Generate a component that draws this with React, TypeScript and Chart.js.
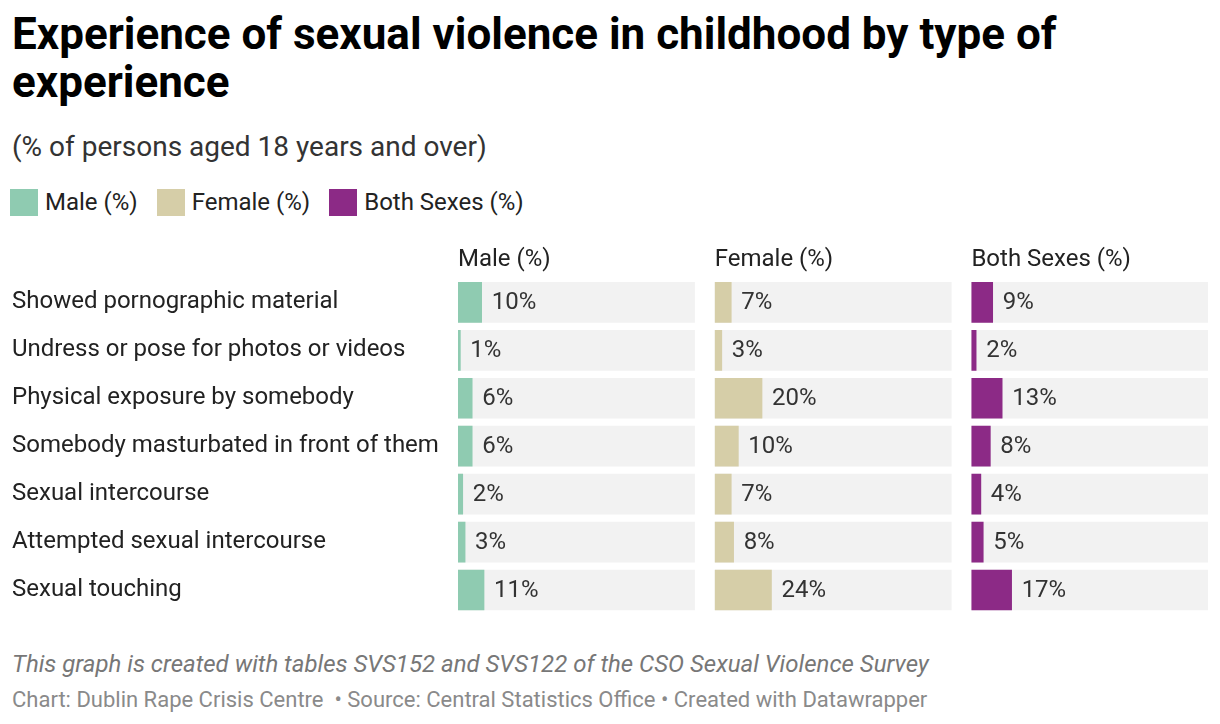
import React, { useEffect, useRef } from "react";
import { Chart, registerables } from "chart.js";

Chart.register(...registerables);

const categories = [
  "Showed pornographic material",
  "Undress or pose for photos or videos",
  "Physical exposure by somebody",
  "Somebody masturbated in front of them",
  "Sexual intercourse",
  "Attempted sexual intercourse",
  "Sexual touching",
];
const maleValues = [10, 1, 6, 6, 2, 3, 11];
const femaleValues = [7, 3, 20, 10, 7, 8, 24];
const bothValues = [9, 2, 13, 8, 4, 5, 17];
const seriesNames = ["Male (%)", "Female (%)", "Both Sexes (%)"];
const trackMax = 100;

const COLORS = ["#8fcbb1", "#d6cea8", "#8c2a86"];
const TRACK = "#f2f2f2";
const FONT = "Roboto";

const valueLabels = {
  id: "valueLabels",
  afterDatasetsDraw(chart: any) {
    const ctx = chart.ctx;
    ctx.save();
    ctx.font = `24px ${FONT}`;
    ctx.fillStyle = "#333333";
    ctx.textBaseline = "middle";
    ctx.textAlign = "left";
    chart.data.datasets.forEach((ds: any, di: number) => {
      if (!ds.isValue) return;
      const meta = chart.getDatasetMeta(di);
      meta.data.forEach((bar: any, i: number) => {
        ctx.fillText(`${ds.data[i]}%`, bar.x + 10, bar.y + 1);
      });
    });
    ctx.restore();
  },
};

export default function App() {
  const ref = useRef<HTMLCanvasElement | null>(null);

  useEffect(() => {
    if (!ref.current) return;
    const track = categories.map(() => trackMax);
    const gap = 8.5;
    const series = [maleValues, femaleValues, bothValues];
    const axisIds = ["xM", "xF", "xB"];
    const datasets: any[] = [];
    series.forEach((vals, k) => {
      datasets.push({
        label: seriesNames[k] + " track",
        data: track,
        xAxisID: axisIds[k],
        backgroundColor: TRACK,
        grouped: false,
        order: 2,
        barThickness: 40,
      });
      datasets.push({
        label: seriesNames[k],
        data: vals,
        isValue: true,
        xAxisID: axisIds[k],
        backgroundColor: COLORS[k],
        grouped: false,
        order: 1,
        barThickness: 40,
      });
    });
    const xAxis = (k: number, max: number) => ({
      type: "linear",
      position: "top",
      stack: "panels",
      stackWeight: max,
      min: 0,
      max,
      grid: { display: false, drawTicks: false },
      border: { display: false },
      ticks: { display: false },
      title: {
        display: true,
        text: seriesNames[k],
        align: "start",
        color: "#222222",
        font: { family: FONT, size: 24, lineHeight: 1.1 },
        padding: { top: 0, bottom: 5 },
      },
    });
    const chart = new Chart(ref.current, {
      type: "bar",
      data: { labels: categories, datasets },
      plugins: [valueLabels],
      options: {
        indexAxis: "y",
        animation: false,
        responsive: false,
        maintainAspectRatio: false,
        layout: { padding: { left: 4, right: 4, top: 17, bottom: 16 } },
        plugins: { legend: { display: false }, tooltip: { enabled: false } },
        scales: {
          xB: xAxis(2, trackMax),
          xF: xAxis(1, trackMax + gap),
          xM: xAxis(0, trackMax + gap),
          y: {
            type: "category",
            position: "left",
            grid: { display: false },
            border: { display: false },
            ticks: {
              crossAlign: "far",
              padding: 0,
              color: "#222222",
              font: { family: FONT, size: 24 },
            },
            afterFit: (scale: any) => {
              scale.width = 446;
            },
          },
        },
      } as any,
    });
    return () => chart.destroy();
  }, []);

  const legendItem = (k: number) => (
    <div key={k} style={{ display: "flex", alignItems: "center", marginRight: 19 }}>
      <div style={{ width: 28, height: 27, background: COLORS[k], marginRight: 7 }} />
      <span style={{ fontSize: 24, color: "#222" }}>{seriesNames[k]}</span>
    </div>
  );

  return (
    <div style={{ position: "relative", width: 1204, height: 708, fontFamily: FONT }}>
      <div
        style={{
          position: "absolute",
          left: 4,
          top: 2,
          width: 1100,
          fontSize: 44,
          fontWeight: 700,
          lineHeight: "48px",
          color: "#000",
        }}
      >
        Experience of sexual violence in childhood by type of experience
      </div>
      <div style={{ position: "absolute", left: 4, top: 122, fontSize: 28, lineHeight: "34px", color: "#333" }}>
        (% of persons aged 18 years and over)
      </div>
      <div style={{ position: "absolute", left: 2, top: 180, display: "flex" }}>
        {[0, 1, 2].map(legendItem)}
      </div>
      <canvas ref={ref} width={1204} height={400} style={{ position: "absolute", left: 0, top: 222 }} />
      <div
        style={{
          position: "absolute",
          left: 4,
          top: 642,
          fontSize: 24,
          fontStyle: "italic",
          color: "#777",
          lineHeight: "28px",
        }}
      >
        This graph is created with tables SVS152 and SVS122 of the CSO Sexual Violence Survey
      </div>
      <div style={{ position: "absolute", left: 4, top: 679, fontSize: 22, color: "#8a8a8a", lineHeight: "26px" }}>
        Chart: Dublin Rape Crisis Centre &nbsp;• Source: Central Statistics Office • Created with Datawrapper
      </div>
    </div>
  );
}
